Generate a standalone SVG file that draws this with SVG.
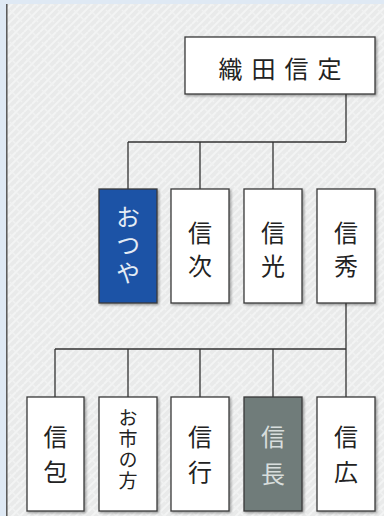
<svg xmlns="http://www.w3.org/2000/svg" width="384" height="516" viewBox="0 0 384 516">
<defs>
<pattern id="saya" width="16" height="16" patternUnits="userSpaceOnUse">
<rect width="16" height="16" fill="#e9eaea"/>
<path d="M0 8 L8 0 M8 16 L16 8 M0 16 L16 0" stroke="#f3f4f4" stroke-width="2" fill="none"/>
<path d="M0 0 L6 6 M10 10 L16 16" stroke="#f1f2f2" stroke-width="1.5" fill="none"/>
</pattern>
<filter id="sh" x="-10%" y="-10%" width="130%" height="130%">
<feDropShadow dx="1.5" dy="1.5" stdDeviation="0.8" flood-color="#000" flood-opacity="0.35"/>
</filter>
</defs>
<style>
.box{fill:#ffffff;stroke:#3a3a3a;stroke-width:1.3;filter:url(#sh)}
.blue{fill:#1d52a6}
.gray{fill:#6f7c7a}
.t{font-family:"Noto Sans CJK JP","Noto Sans",sans-serif;font-size:24px;fill:#222;text-anchor:middle;dominant-baseline:central}
.v{writing-mode:vertical-rl}
.s{font-size:19px}
.light{fill:#e4ecf5}
.lg{fill:#d8dedd}
.ln{stroke:#333;stroke-width:1.3;fill:none}
</style>
<rect width="384" height="516" fill="url(#saya)"/>
<rect x="0" y="0" width="384" height="4" fill="#dfe9f4"/>
<rect x="0" y="0" width="6" height="516" fill="#dfe9f4"/>
<line x1="6.8" y1="4" x2="6.8" y2="516" stroke="#555" stroke-width="1.5"/>
<g id="connectors" class="ln">
<path d="M346 94 V142 M128 142 H346 M128 142 V189 M200 142 V189 M273 142 V189"/>
<path d="M346 303 V349 M55 349 H346 M55 349 V397 M128 349 V397 M200 349 V397 M273 349 V397 M346 349 V397"/>
</g>
<g id="n-nobusada"><rect class="box" x="185" y="37" width="190" height="57"/><text class="t" x="280" y="67" letter-spacing="9" dx="4.5">織田信定</text></g>
<g id="n-otsuya"><rect class="box blue" x="99" y="189" width="58" height="114"/><text class="t v light" x="128" y="247" letter-spacing="4">おつや</text></g>
<g id="n-nobutsugu"><rect class="box" x="171" y="189" width="58" height="114"/><text class="t v" x="200" y="254" letter-spacing="9">信次</text></g>
<g id="n-nobumitsu"><rect class="box" x="244" y="189" width="58" height="114"/><text class="t v" x="273" y="254" letter-spacing="9">信光</text></g>
<g id="n-nobuhide"><rect class="box" x="317" y="189" width="58" height="114"/><text class="t v" x="346" y="254" letter-spacing="9">信秀</text></g>
<g id="n-nobukane"><rect class="box" x="27" y="397" width="57" height="114"/><text class="t v" x="55.5" y="460" letter-spacing="11">信包</text></g>
<g id="n-oichi"><rect class="box" x="99" y="397" width="58" height="114"/><text class="t v s" x="128" y="450.5" letter-spacing="2">お市の方</text></g>
<g id="n-nobuyuki"><rect class="box" x="171" y="397" width="58" height="114"/><text class="t v" x="200" y="460" letter-spacing="11">信行</text></g>
<g id="n-nobunaga"><rect class="box gray" x="244" y="397" width="58" height="114"/><text class="t v lg" x="273" y="462" letter-spacing="13">信長</text></g>
<g id="n-nobuhiro"><rect class="box" x="317" y="397" width="58" height="114"/><text class="t v" x="346" y="460" letter-spacing="11">信広</text></g>
</svg>
